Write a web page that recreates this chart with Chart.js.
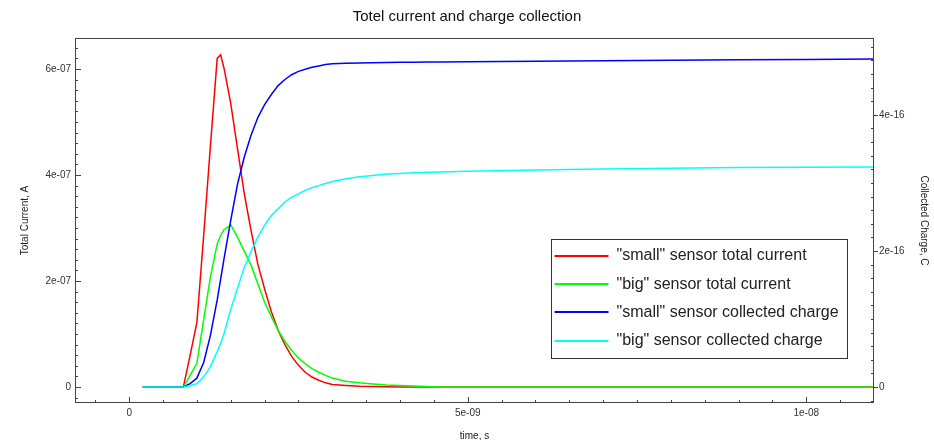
<!DOCTYPE html>
<html>
<head>
<meta charset="utf-8">
<script src="https://cdn.jsdelivr.net/npm/chart.js@4.4.1/dist/chart.umd.min.js"></script>
<style>
  body { margin: 0; background: #fff; }
  #wrap { width: 934px; height: 440px; }
</style>
</head>
<body>
<div id="wrap"><canvas id="total-chart"></canvas></div>
<script>

// time axis, in ns
const timeNs = [0.2, 0.8, 0.9, 1.0, 1.1, 1.2, 1.3, 1.35, 1.4, 1.5, 1.6, 1.7, 1.8, 1.9, 2.0, 2.1, 2.2, 2.3, 2.4, 2.5, 2.6,
    2.7, 2.8, 2.9, 3.0, 3.2, 3.4, 3.6, 3.8, 4.0, 4.2, 4.4, 4.6, 5.0, 6.0, 7.0, 8.0, 9.0, 10.0, 11.0]

// currents, in 1e-7 A
const smallCurrent = [0, 0, 0.6, 1.22, 2.85, 4.55, 6.2, 6.27, 6.02, 5.35, 4.5, 3.65, 2.95, 2.32, 1.85, 1.42, 1.07, 0.8, 0.58, 0.41, 0.28,
    0.19, 0.13, 0.08, 0.05, 0.03, 0.015, 0.01, 0.005, 0.003, 0.002, 0.001, 0, 0, 0, 0, 0, 0, 0, 0]
const bigCurrent = [0, 0, 0.22, 0.45, 1.27, 2.08, 2.7, 2.86, 2.97, 3.06, 2.83, 2.56, 2.3, 1.95, 1.6, 1.33, 1.07, 0.86, 0.69, 0.55, 0.44,
    0.35, 0.28, 0.22, 0.17, 0.11, 0.08, 0.06, 0.04, 0.03, 0.02, 0.01, 0, 0, 0, 0, 0, 0, 0, 0]

// collected charge, in 1e-16 C
const smallCharge = [0, 0, 0.05, 0.13, 0.36, 0.76, 1.28, 1.58, 1.88, 2.45, 2.98, 3.38, 3.7, 3.96, 4.15, 4.3, 4.43, 4.52, 4.59, 4.64, 4.67,
    4.7, 4.72, 4.74, 4.75, 4.758, 4.763, 4.767, 4.77, 4.773, 4.775, 4.777, 4.779, 4.782, 4.79, 4.797, 4.803, 4.81, 4.815, 4.82]
const bigCharge = [0, 0, 0.02, 0.05, 0.15, 0.3, 0.52, 0.64, 0.78, 1.14, 1.45, 1.76, 1.99, 2.2, 2.38, 2.52, 2.62, 2.72, 2.79, 2.84, 2.89,
    2.93, 2.96, 2.99, 3.02, 3.06, 3.09, 3.11, 3.13, 3.14, 3.15, 3.155, 3.16, 3.17, 3.19, 3.205, 3.215, 3.225, 3.23, 3.235]

const seriesLabels = ['"small" sensor total current', '"big" sensor total current',
    '"small" sensor collected charge', '"big" sensor collected charge']

const timeTicks = [0, 5e-9, 1e-8]
const currentTicks = [0, 2e-7, 4e-7, 6e-7]
const chargeTicks = [0, 2e-16, 4e-16]

const FONT = 'Liberation Sans, Arial, sans-serif'

function toPoints(values, scale){
    return values.map((v, i) => ({ x: timeNs[i] * 1e-9, y: v * scale }))
}

function sci(v){
    if (v === 0) return '0'
    const parts = v.toExponential().split('e')
    const e = parseInt(parts[1])
    return parts[0] + 'e' + (e < 0 ? '-' : '+') + String(Math.abs(e)).padStart(2, '0')
}

// frame + inward ticks (root style)
const frameTicks = {
    id: 'frameTicks',
    afterDatasetsDraw(chart){
        const { ctx, chartArea: a, scales } = chart
        ctx.save()
        ctx.strokeStyle = '#444'
        ctx.lineWidth = 1
        ctx.strokeRect(a.left + 0.5, a.top + 0.5, a.width - 1, a.height - 1)

        ctx.beginPath()
        for (let i = -2; i <= 22; i++){
            const px = Math.round(scales.x.getPixelForValue(i * 0.5e-9)) + 0.5
            if (px < a.left || px > a.right) continue
            const len = i % 10 === 0 ? 6 : 3
            ctx.moveTo(px, a.bottom)
            ctx.lineTo(px, a.bottom - len)
        }
        for (let i = -2; i <= 33; i++){
            const py = Math.round(scales.y.getPixelForValue(i * 0.2e-7)) + 0.5
            if (py < a.top || py > a.bottom) continue
            const len = i % 10 === 0 ? 6 : 3
            ctx.moveTo(a.left, py)
            ctx.lineTo(a.left + len, py)
        }
        for (let i = -2; i <= 26; i++){
            const py = Math.round(scales.y1.getPixelForValue(i * 0.2e-16)) + 0.5
            if (py < a.top || py > a.bottom) continue
            if (i % 10 === 0){
                ctx.moveTo(a.right, py)
                ctx.lineTo(a.right + 4, py)
            } else {
                ctx.moveTo(a.right, py)
                ctx.lineTo(a.right - 3, py)
            }
        }
        ctx.stroke()
        ctx.restore()
    }
}

// legend box inside the plot, lower right
const boxLegend = {
    id: 'boxLegend',
    afterDatasetsDraw(chart){
        const { ctx, chartArea: a } = chart
        const left = a.right - 322.5, top = a.bottom - 163.5
        const w = 296, h = 119
        ctx.save()
        ctx.fillStyle = '#fff'
        ctx.fillRect(left, top, w, h)
        ctx.strokeStyle = '#333'
        ctx.lineWidth = 1
        ctx.strokeRect(left, top, w, h)
        ctx.font = '16px ' + FONT
        ctx.textBaseline = 'middle'
        chart.data.datasets.forEach((ds, i) => {
            const y = top + 16.5 + i * 28.2
            ctx.strokeStyle = ds.borderColor
            ctx.lineWidth = 2
            ctx.beginPath()
            ctx.moveTo(left + 3, Math.round(y))
            ctx.lineTo(left + 57, Math.round(y))
            ctx.stroke()
            ctx.fillStyle = '#222'
            ctx.fillText(ds.label, left + 65, y)
        })
        ctx.restore()
    }
}

document.addEventListener("DOMContentLoaded", function () {

    const canvas = document.getElementById("total-chart")
    const colors = ['#ff0000', '#00ff00', '#0000ff', '#00ffff']
    const series = [
        toPoints(smallCurrent, 1e-7), toPoints(bigCurrent, 1e-7),
        toPoints(smallCharge, 1e-16), toPoints(bigCharge, 1e-16)
    ]

    new Chart(canvas, {
        type: 'line',
        data: {
            datasets: series.map((pts, i) => ({
                label: seriesLabels[i],
                data: pts,
                borderColor: colors[i],
                borderWidth: 1.5,
                pointRadius: 0,
                tension: 0,
                yAxisID: i < 2 ? 'y' : 'y1',
                order: 3 - i
            }))
        },
        options: {
            responsive: true,
            maintainAspectRatio: false,
            animation: false,
            layout: { padding: 0 },
            plugins: {
                legend: { display: false },
                tooltip: { enabled: false },
                title: {
                    display: true,
                    text: 'Totel current and charge collection',
                    color: '#111',
                    font: { family: FONT, size: 15, weight: 'normal' },
                    padding: { top: 8, bottom: 12 }
                }
            },
            scales: {
                x: {
                    type: 'linear',
                    min: -0.8e-9,
                    max: 11e-9,
                    grid: { display: false, drawTicks: false },
                    border: { display: false },
                    afterFit: (s) => { s.height = 37 },
                    afterBuildTicks: (s) => { s.ticks = timeTicks.map(v => ({ value: v })) },
                    ticks: {
                        autoSkip: false, maxRotation: 0, padding: 4,
                        color: '#333', font: { family: FONT, size: 10 },
                        callback: (v) => sci(v)
                    },
                    title: {
                        display: true, text: 'time, s', color: '#222',
                        font: { family: FONT, size: 10, lineHeight: 1 },
                        padding: { top: 0, bottom: -1 }
                    }
                },
                y: {
                    type: 'linear',
                    position: 'left',
                    min: -0.3e-7,
                    max: 6.585e-7,
                    grid: { display: false, drawTicks: false },
                    border: { display: false },
                    afterFit: (s) => { s.width = 75 },
                    afterBuildTicks: (s) => { s.ticks = currentTicks.map(v => ({ value: v })) },
                    ticks: {
                        autoSkip: false, padding: 4,
                        color: '#333', font: { family: FONT, size: 10 },
                        callback: (v) => sci(v)
                    },
                    title: {
                        display: true, text: 'Total Current, A', color: '#222',
                        font: { family: FONT, size: 10 },
                        padding: { top: 19, bottom: 0 }
                    }
                },
                y1: {
                    type: 'linear',
                    position: 'right',
                    min: -0.235e-16,
                    max: 5.13e-16,
                    grid: { display: false, drawTicks: false },
                    border: { display: false },
                    afterFit: (s) => { s.width = 60 },
                    afterBuildTicks: (s) => { s.ticks = chargeTicks.map(v => ({ value: v })) },
                    ticks: {
                        autoSkip: false, padding: 5,
                        color: '#333', font: { family: FONT, size: 10 },
                        callback: (v) => sci(v)
                    },
                    title: {
                        display: true, text: 'Collected Charge, C', color: '#222',
                        font: { family: FONT, size: 10 },
                        padding: { top: 4.5, bottom: 0 }
                    }
                }
            }
        },
        plugins: [frameTicks, boxLegend]
    })

});
</script>
</body>
</html>
